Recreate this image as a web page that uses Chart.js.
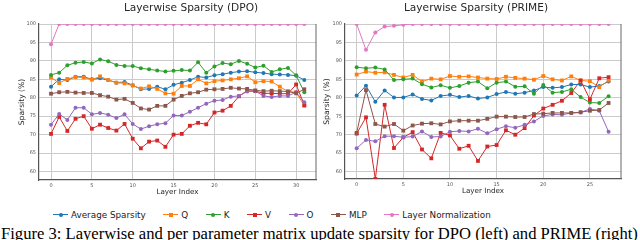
<!DOCTYPE html>
<html>
<head>
<meta charset="utf-8">
<script src="https://cdn.jsdelivr.net/npm/chart.js@4.4.1/dist/chart.umd.min.js"></script>
<style>
html,body{margin:0;padding:0;background:#fff;}
body{width:640px;height:240px;position:relative;overflow:hidden;font-family:"DejaVu Sans",sans-serif;}
canvas{position:absolute;top:0;}
.ttl{position:absolute;top:0.5px;font-size:10.6px;line-height:12px;color:#262626;white-space:nowrap;transform:translateX(-50%);}
#legend{position:absolute;left:53px;top:208px;height:13px;display:flex;align-items:center;font-size:8.8px;color:#222;white-space:nowrap;}
.item{display:flex;align-items:center;margin-right:17.5px;}
.mk{position:relative;width:15px;height:9px;margin-right:3px;}
.mk .ln{position:absolute;left:0;right:0;top:4px;height:1px;}
.mk .pt{position:absolute;left:5.5px;top:2.5px;width:4px;height:4px;}
.cap{position:absolute;left:1px;top:225.5px;font-family:"Liberation Serif","Times New Roman",serif;font-size:16.6px;line-height:16.6px;color:#000;white-space:nowrap;}
</style>
</head>
<body>
<canvas id="dpo" width="320" height="200" style="left:0"></canvas>
<canvas id="prime" width="320" height="200" style="left:320px"></canvas>
<div class="ttl" style="left:191px">Layerwise Sparsity (DPO)</div>
<div class="ttl" style="left:476px">Layerwise Sparsity (PRIME)</div>
<div id="legend"></div>
<div class="cap">Figure 3: Layerwise and per parameter matrix update sparsity for DPO (left) and PRIME (right)</div>
<script>
// series names / colours (tab10) / marker shapes
const names=['Average Sparsity','Q','K','V','O','MLP','Layer Normalization'];
const colors=['#1f77b4','#ff7f0e','#2ca02c','#d62728','#9467bd','#8c564b','#e377c2'];
const shapes=['circle','rect','circle','rect','circle','rect','circle'];

const yTicks=[60,65,70,75,80,85,90,95,100];
const dpoXTicks=[0,5,10,15,20,25,30];
const primeXTicks=[0,5,10,15,20,25];

// --- DPO, 32 layers ---
const dpoLayers=[0,1,2,3,4,5,6,7,8,9,10,11,12,13,14,15,16,17,18,19,20,21,22,23,24,25,26,27,28,29,30,31];
const dpoAvg=[83.0,85.0,84.8,85.7,85.7,85.0,85.3,84.8,84.1,84.3,83.4,82.3,82.4,83.0,82.3,83.5,84.1,84.8,85.7,85.5,86.1,86.4,86.8,87.1,87.2,86.9,86.7,86.4,86.3,86.2,86.0,84.8];
const dpoQ=[85.5,84.0,85.1,85.6,85.5,84.9,85.8,84.8,84.1,83.9,83.3,82.5,83.1,82.4,81.2,81.1,83.2,83.2,85.0,83.9,84.5,84.7,85.0,85.3,85.8,84.2,84.5,84.4,83.0,81.7,81.5,77.8];
const dpoK=[86.2,86.8,88.8,89.5,89.7,89.3,90.4,89.9,88.9,88.6,88.6,88.0,87.7,87.4,87.1,87.3,87.5,87.4,89.6,86.8,88.5,89.4,89.1,90.0,89.2,88.2,88.7,87.0,87.7,88.1,86.1,81.5];
const dpoV=[70.2,74.8,71.0,74.3,75.0,71.6,72.7,71.8,71.1,72.9,68.9,66.3,68.1,68.4,66.7,70.0,70.2,72.4,73.2,72.8,76.0,76.5,77.8,80.4,81.9,81.8,81.2,81.2,81.1,81.1,83.6,78.0];
const dpoO=[72.7,75.6,74.0,77.3,77.3,75.5,75.9,75.4,74.5,75.5,72.9,71.5,72.3,72.8,73.1,75.2,75.2,76.2,77.3,78.4,79.2,79.4,80.3,80.5,81.7,81.8,80.5,80.2,80.5,80.5,81.5,78.8];
const dpoMLP=[81.1,81.5,81.6,81.4,81.3,81.3,80.7,80.3,79.5,79.7,78.6,77.1,76.8,77.8,77.8,79.5,80.5,81.2,81.5,82.2,82.3,82.4,82.7,82.5,82.4,82.0,81.8,81.9,81.8,81.7,81.2,82.3];
const dpoLN=[94.5,100,100,100,100,100,100,100,100,100,100,100,100,100,100,100,100,100,100,100,100,100,100,100,100,100,100,100,100,100,100,100];

// --- PRIME, 28 layers ---
const primeLayers=[0,1,2,3,4,5,6,7,8,9,10,11,12,13,14,15,16,17,18,19,20,21,22,23,24,25,26,27];
const primeAvg=[80.6,83.3,78.9,82.0,80.1,80.1,80.9,79.7,79.3,80.5,80.8,80.2,80.5,79.8,80.1,81.0,81.6,81.1,81.4,82.0,82.9,82.7,82.9,83.6,83.6,82.9,83.2,84.4];
const primeQ=[86.3,87.1,86.8,86.9,86.2,85.5,86.2,84.4,85.2,85.0,85.9,85.7,85.8,85.5,85.2,85.1,85.7,85.4,85.2,84.9,85.9,85.0,84.7,85.8,84.7,84.5,82.9,84.7];
const primeK=[88.3,88.0,88.2,87.7,84.8,85.0,85.2,83.7,82.8,83.4,82.7,83.2,84.1,84.4,82.6,84.1,84.4,83.0,83.1,81.1,83.5,81.4,81.6,82.3,80.2,78.7,78.6,80.4];
const primeV=[70.3,74.7,58.0,78.1,66.4,69.3,70.7,66.0,63.6,70.5,69.8,66.2,67.0,62.9,66.8,67.2,71.2,70.0,71.8,75.2,77.1,78.1,79.2,81.3,84.7,79.6,85.3,85.6];
const primeO=[66.3,68.6,68.2,69.6,69.6,69.3,69.5,70.9,69.4,69.5,70.8,71.0,70.9,71.6,70.4,71.5,72.3,71.9,72.7,73.6,75.1,75.5,75.4,75.9,76.0,77.0,76.5,70.8];
const primeMLP=[70.5,82.1,72.9,72.2,72.9,71.1,72.5,73.0,73.1,72.8,73.6,73.8,73.8,73.8,74.3,74.9,74.9,74.8,74.8,75.6,75.7,75.9,75.9,75.9,76.1,76.5,76.7,78.6];
const primeLN=[100,93.0,97.7,99.3,99.5,99.8,100,100,100,100,100,100,100,100,100,100,100,100,100,100,100,100,100,100,100,100,100,100];

// right-hand spine
const rightSpine={id:'rightSpine',beforeDatasetsDraw(c){
  const a=c.chartArea,x=c.ctx;
  x.save();x.strokeStyle='#666';x.lineWidth=1;
  x.beginPath();x.moveTo(a.right,a.top);x.lineTo(a.right,a.bottom);x.stroke();x.restore();
}};

function makeChart(id,layers,series,cfg){
  const datasets=series.map((vals,k)=>({
    label:names[k],
    data:vals.map((v,i)=>({x:layers[i],y:v})),
    borderColor:colors[k],backgroundColor:colors[k],
    borderWidth:1,pointStyle:shapes[k],
    pointRadius:shapes[k]==='rect'?2.7:2.0,pointBorderWidth:0,
    tension:0,clip:0,order:10-k
  }));
  return new Chart(document.getElementById(id),{
    type:'line',
    data:{datasets},
    plugins:[rightSpine],
    options:{
      responsive:false,animation:false,
      layout:{padding:cfg.pad},
      plugins:{legend:{display:false},tooltip:{enabled:false},title:{display:false}},
      scales:{
        x:{type:'linear',min:cfg.xMin,max:cfg.xMax,
          afterBuildTicks:s=>{s.ticks=cfg.xTicks.map(v=>({value:v}));},
          afterFit:s=>{s.height=20;},
          ticks:{font:{family:'DejaVu Sans',size:5},color:'#555',padding:3,autoSkip:false,maxRotation:0},
          grid:{color:'#cbcbcb',lineWidth:1,drawTicks:false},
          border:{color:'#555',width:1.2},
          title:{display:true,text:'Layer Index',color:'#262626',font:{family:'DejaVu Sans',size:7.2},padding:{top:0,bottom:3.6}}},
        y:{min:cfg.yMin,max:100,
          afterBuildTicks:s=>{s.ticks=yTicks.map(v=>({value:v}));},
          afterFit:s=>{s.width=cfg.yW;},
          ticks:{font:{family:'DejaVu Sans',size:5},color:'#555',padding:3},
          grid:{color:'#cbcbcb',lineWidth:1,drawTicks:false},
          border:{color:'#555',width:1.2},
          title:{display:true,text:'Sparsity (%)',color:'#262626',font:{family:'DejaVu Sans',size:7.6},padding:{top:cfg.yTitlePad,bottom:0}}}
      }
    }
  });
}

makeChart('dpo',dpoLayers,[dpoAvg,dpoQ,dpoK,dpoV,dpoO,dpoMLP,dpoLN],
  {pad:{left:0,top:24,right:4,bottom:0},xMin:-1.47,xMax:32.43,xTicks:dpoXTicks,yMin:57.7,yW:39,yTitlePad:17.5});
makeChart('prime',primeLayers,[primeAvg,primeQ,primeK,primeV,primeO,primeMLP,primeLN],
  {pad:{left:0,top:24,right:19,bottom:1},xMin:-1.25,xMax:28.33,xTicks:primeXTicks,yMin:58.0,yW:25,yTitlePad:2.4});

// legend
const lg=document.getElementById('legend');
names.forEach((n,k)=>{
  const it=document.createElement('div');it.className='item';
  const r=shapes[k]==='rect'?'0':'50%';
  it.innerHTML='<span class="mk"><span class="ln" style="background:'+colors[k]+'"></span><span class="pt" style="background:'+colors[k]+';border-radius:'+r+'"></span></span><span>'+n+'</span>';
  lg.appendChild(it);
});
</script>
</body>
</html>
